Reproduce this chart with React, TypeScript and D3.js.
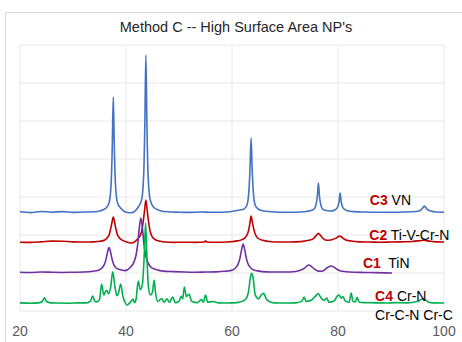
import React from "react";
import * as d3 from "d3";

const xTicks = [20, 40, 60, 80, 100];
const yGrid = [0, 1000, 2000, 3000, 4000, 5000, 6000, 7000];

// C3 VN
const c3VN: [number, number][] = [
  [20, 2610], [22, 2590], [24, 2620], [26, 2600], [28, 2615], [30, 2595], [32, 2605], [34, 2610], [35.2, 2640],
  [36.1, 2691], [36.8, 2843], [37.2, 3358], [37.4, 4268], [37.6, 5632], [37.8, 4268], [38.0, 3358], [38.4, 2843], [39.1, 2691],
  [40, 2600], [41, 2585], [42.25, 2724], [42.95, 2931], [43.35, 3635], [43.55, 4876], [43.75, 6738], [43.95, 4876], [44.15, 3635],
  [44.55, 2931], [45.25, 2724], [46.5, 2640], [48, 2610], [50, 2600], [52, 2595], [54, 2605], [56, 2600], [58, 2600], [60, 2620],
  [61.5, 2660], [62.2, 2678], [62.8, 2776], [63.15, 3088], [63.38, 3674], [63.6, 4553], [63.82, 3674], [64.05, 3088], [64.4, 2776],
  [65.0, 2678], [66, 2630], [68, 2605], [70, 2600], [72, 2600], [74, 2620], [75.2, 2660], [75.6, 2700], [75.9, 2830], [76.1, 3020],
  [76.3, 3369], [76.5, 3020], [76.7, 2830], [77.0, 2700], [77.6, 2650], [78.5, 2630], [79.4, 2660], [79.7, 2690], [80.0, 2760],
  [80.2, 2880], [80.4, 3106], [80.6, 2880], [80.8, 2760], [81.1, 2690], [81.8, 2640], [83, 2615], [85, 2605], [88, 2600], [91, 2600],
  [94, 2610], [95.4, 2640], [95.8, 2680], [96.1, 2730], [96.3, 2764], [96.5, 2730], [96.8, 2680], [97.5, 2630], [98.5, 2605], [100, 2600],
];

// C2 Ti-V-Cr-N
const c2TiVCrN: [number, number][] = [
  [20, 1810], [22, 1805], [24, 1820], [26, 1840], [28, 1835], [30, 1820], [32, 1815], [34, 1820], [35.1, 1835],
  [36.0, 1870], [36.5, 1935], [36.85, 2020], [37.1, 2160], [37.35, 2330], [37.6, 2474], [37.85, 2330], [38.1, 2160], [38.35, 2020],
  [38.7, 1935], [39.2, 1870], [40.1, 1815], [41, 1790], [41.6, 1820], [42.2, 1895], [42.7, 1995], [43.0, 2130], [43.25, 2356],
  [43.5, 2645], [43.75, 2922], [44.0, 2645], [44.25, 2356], [44.5, 2130], [44.8, 1995], [45.3, 1895], [46.25, 1840], [47.5, 1815],
  [49, 1805], [51, 1810], [53, 1805], [54.8, 1815], [55.0, 1850], [55.2, 1815], [57, 1810], [59, 1815], [61, 1845], [62.0, 1885],
  [62.55, 1940], [62.95, 2040], [63.2, 2160], [63.4, 2330], [63.6, 2500], [63.85, 2330], [64.1, 2160], [64.4, 2020], [64.9, 1915],
  [65.8, 1860], [67, 1830], [69, 1815], [71, 1815], [73, 1825], [74.5, 1860], [75.0, 1880], [75.5, 1920], [75.9, 1990], [76.3, 2043],
  [76.7, 1990], [77.1, 1920], [77.6, 1870], [78.3, 1860], [79.0, 1880], [79.5, 1910], [79.8, 1930], [80.05, 1960], [80.3, 1974],
  [80.55, 1960], [80.9, 1920], [81.5, 1870], [82.5, 1840], [84, 1820], [86, 1815], [88, 1810], [90, 1815], [92, 1820], [94, 1830],
  [95.5, 1850], [96.2, 1860], [97, 1845], [98.5, 1820], [100, 1815],
];

// C1 TiN
const c1TiN: [number, number][] = [
  [20, 1020], [22, 1015], [24, 1025], [26, 1020], [28, 1015], [30, 1020], [32, 1025], [33.8, 1046], [34.8, 1072],
  [35.5, 1137], [35.9, 1222], [36.2, 1345], [36.5, 1540], [36.8, 1670], [37.1, 1540], [37.4, 1345], [37.7, 1222], [38.1, 1137],
  [38.8, 1090], [39.8, 1062], [40.8, 1144], [41.5, 1287], [41.9, 1473], [42.2, 1745], [42.5, 2174], [42.8, 2448], [43.1, 2174],
  [43.4, 1745], [43.7, 1473], [44.1, 1287], [44.8, 1144], [45.8, 1087], [47, 1050], [49, 1035], [51, 1025], [53, 1020], [55, 1025],
  [57, 1030], [58.5, 1045], [59.1, 1050], [60.1, 1080], [60.8, 1155], [61.2, 1250], [61.5, 1390], [61.8, 1610], [62.1, 1760],
  [62.4, 1610], [62.7, 1390], [63.0, 1250], [63.4, 1155], [64.1, 1080], [65.1, 1050], [66.5, 1030], [68, 1025], [70, 1025], [72, 1040],
  [73, 1080], [73.6, 1120], [74.0, 1170], [74.5, 1210], [75.0, 1170], [75.5, 1110], [76.0, 1065], [76.6, 1045], [77.2, 1060],
  [77.6, 1100], [78.1, 1150], [78.7, 1184], [79.3, 1150], [79.8, 1100], [80.5, 1055], [81.5, 1035], [83, 1020], [85, 1015], [87, 1010],
  [90.2, 1000],
];

// C4 Cr-N / Cr-C-N / Cr-C
const c4CrN: [number, number][] = [
  [20, 215], [22, 205], [23.5, 215], [24.2, 250], [24.6, 345], [25.0, 250], [25.8, 215], [27, 210], [29, 205], [31, 215],
  [32.5, 215], [33.3, 260], [33.7, 395], [34.1, 260], [34.5, 240], [35.0, 300], [35.4, 711], [35.8, 420], [36.1, 500], [36.4, 545],
  [36.7, 450], [37.1, 620], [37.5, 1032], [37.9, 650], [38.3, 400], [38.6, 480], [39.0, 710], [39.4, 400], [39.8, 230], [40.2, 160],
  [40.6, 200], [41.0, 260], [41.3, 316], [41.6, 220], [41.9, 310], [42.3, 790], [42.7, 560], [43.1, 700], [43.45, 1500], [43.7, 2316],
  [43.95, 1400], [44.25, 600], [44.6, 420], [45.0, 500], [45.3, 816], [45.6, 450], [46.0, 250], [46.7, 330], [47.2, 230], [47.7, 320],
  [48.2, 230], [48.8, 368], [49.3, 220], [50.0, 250], [50.4, 390], [50.7, 320], [51.0, 632], [51.4, 380], [51.9, 447], [52.4, 250],
  [53.5, 220], [54.2, 300], [54.6, 230], [55.0, 421], [55.4, 230], [56.4, 250], [57.5, 215], [59, 210], [61, 220], [62.5, 300],
  [63.1, 500], [63.5, 900], [63.75, 992], [64.0, 850], [64.4, 420], [65.0, 320], [65.5, 420], [66.0, 466], [66.4, 330], [67, 250],
  [68, 215], [70, 210], [72, 215], [73.2, 260], [73.6, 368], [74.0, 250], [75.0, 290], [75.8, 400], [76.3, 461], [76.8, 340],
  [77.4, 280], [77.9, 342], [78.3, 230], [79.3, 270], [79.9, 400], [80.2, 420], [80.6, 340], [80.9, 380], [81.4, 260], [82.1, 230],
  [82.5, 474], [82.8, 260], [83.3, 240], [83.6, 360], [84.0, 230], [85, 220], [87, 215], [89, 210], [91, 220], [93, 215], [95, 250],
  [95.9, 316], [96.4, 300], [97, 240], [98, 215], [100, 210],
];

const seriesList = [
  { name: "C3", data: c3VN, color: "#4472C4" },
  { name: "C2", data: c2TiVCrN, color: "#C00000" },
  { name: "C1", data: c1TiN, color: "#7030A0" },
  { name: "C4", data: c4CrN, color: "#00B050" },
];

const labelCodes = ["C3", "C2", "C1", "C4", ""];
const labelNames = [" VN", " Ti-V-Cr-N", "  TiN", " Cr-N", "Cr-C-N Cr-C"];
// label anchors in data coordinates [angle, intensity]
const labelAnchors: [number, number][] = [[86.0, 2790], [85.9, 1869], [84.7, 1132], [87.0, 271], [87.0, -237]];

const W = 462, H = 342;
const M = { left: 20, right: 18, top: 45, bottom: 31 };
const FONT = "'Liberation Sans', Arial, sans-serif";

export default function App() {
  const x = d3.scaleLinear().domain([20, 100]).range([M.left, W - M.right]);
  const y = d3.scaleLinear().domain([0, 7000]).range([H - M.bottom, M.top]);
  const line = d3.line<[number, number]>()
    .x((d) => x(d[0]))
    .y((d) => y(d[1]))
    .curve(d3.curveMonotoneX);

  return (
    <svg width={W} height={H} style={{ position: "absolute", left: 0, top: 0, background: "#fff" }}>
      <rect x={5.5} y={12.5} width={W} height={H} fill="#fff" stroke="#D9D9D9" />
      <text x={236} y={32} textAnchor="middle" fontFamily={FONT} fontSize={14.5} fill="#262626">
        Method C -- High Surface Area NP's
      </text>
      {yGrid.map((v) => (
        <line key={"h" + v} x1={x(20)} x2={x(100)} y1={y(v)} y2={y(v)} stroke="#E8E8E8" strokeWidth={1} />
      ))}
      {xTicks.map((t) => (
        <line key={"v" + t} x1={x(t)} x2={x(t)} y1={y(0)} y2={y(7000)} stroke="#E8E8E8" strokeWidth={1} />
      ))}
      {xTicks.map((t) => (
        <text key={"t" + t} x={x(t)} y={y(0) + 25} textAnchor="middle" fontFamily={FONT} fontSize={14} fill="#595959">
          {t}
        </text>
      ))}
      {seriesList.map((s) => (
        <path key={s.name} d={line(s.data) || ""} fill="none" stroke={s.color} strokeWidth={1.6} strokeLinejoin="round" />
      ))}
      {labelNames.map((n, i) => (
        <text key={"l" + i} x={x(labelAnchors[i][0])} y={y(labelAnchors[i][1])} fontFamily={FONT} fontSize={14} fill="#000"
          style={{ whiteSpace: "pre" }}>
          {labelCodes[i] && <tspan fill="#C00000" fontWeight="bold">{labelCodes[i]}</tspan>}
          <tspan>{n}</tspan>
        </text>
      ))}
    </svg>
  );
}
